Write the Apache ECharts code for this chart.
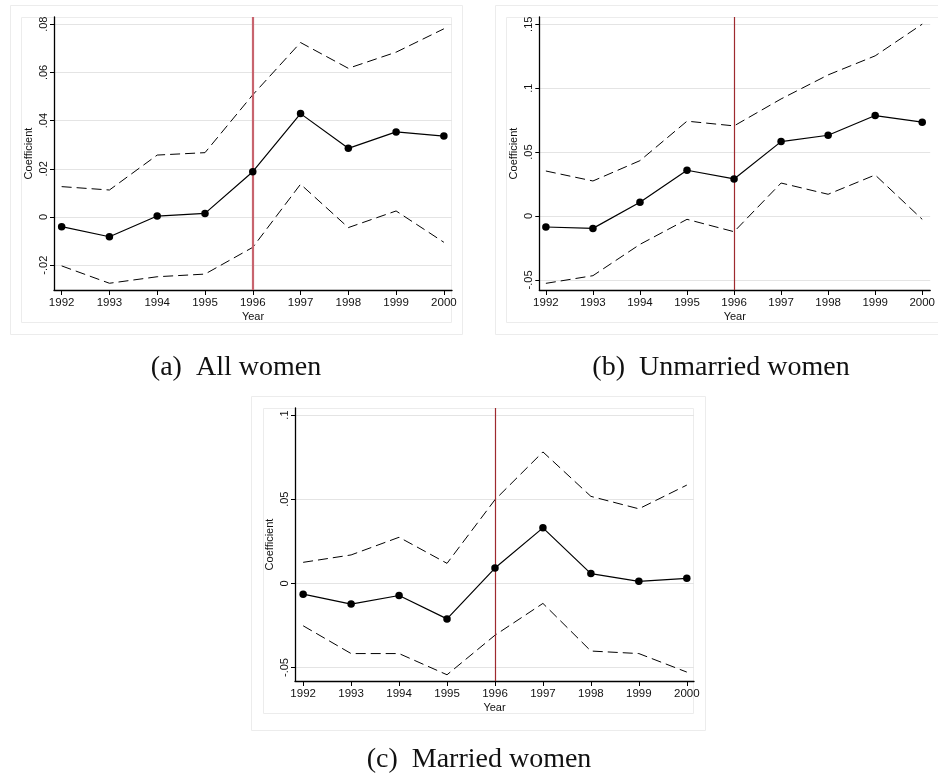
<!DOCTYPE html>
<html>
<head>
<meta charset="utf-8">
<script src="https://cdn.jsdelivr.net/npm/echarts@6/dist/echarts.min.js"></script>
<style>
html,body{margin:0;padding:0;background:#fff;}
#chart{width:938px;height:775px;}
</style>
</head>
<body>
<div id="chart"></div>
<script>
// ---------- data ----------
const years = [1992, 1993, 1994, 1995, 1996, 1997, 1998, 1999, 2000];

// (a) All women
const coefAll  = [-0.0040, -0.0082, 0.0004, 0.0015, 0.0188, 0.0429, 0.0285, 0.0353, 0.0336];
const upperAll = [ 0.0126,  0.0112, 0.0257, 0.0267, 0.0507, 0.0724, 0.0617, 0.0684, 0.0781];
const lowerAll = [-0.0203, -0.0275,-0.0248,-0.0237,-0.0126, 0.0136,-0.0044, 0.0025,-0.0105];

// (b) Unmarried women
const coefUnm  = [-0.0086, -0.0097, 0.0107, 0.0358, 0.0290, 0.0582, 0.0632, 0.0786, 0.0734];
const upperUnm = [ 0.0352,  0.0274, 0.0433, 0.0742, 0.0705, 0.0916, 0.1104, 0.1253, 0.1501];
const lowerUnm = [-0.0527, -0.0467,-0.0222,-0.0026,-0.0123, 0.0258, 0.0170, 0.0321,-0.0026];

// (c) Married women
const coefMar  = [-0.0064, -0.0123,-0.0072,-0.0211, 0.0091, 0.0330, 0.0058, 0.0012, 0.0030];
const upperMar = [ 0.0125,  0.0169, 0.0274, 0.0119, 0.0497, 0.0781, 0.0517, 0.0443, 0.0584];
const lowerMar = [-0.0252, -0.0417,-0.0417,-0.0543,-0.0308,-0.0119,-0.0402,-0.0417,-0.0527];

// tick values
const yTicksA = [-0.02, 0, 0.02, 0.04, 0.06, 0.08];
const yTicksB = [-0.05, 0, 0.05, 0.1, 0.15];
const yTicksC = [-0.05, 0, 0.05, 0.1];
const reformYear = 1996;

const captions = ['(a)  All women', '(b)  Unmarried women', '(c)  Married women'];
const xTitle = 'Year';
const yTitle = 'Coefficient';

// ---------- helpers ----------
function stataFmt(v){
  if (Math.abs(v) < 1e-12) return '0';
  let s = String(+v.toFixed(4));
  return s.replace(/^(-?)0\./, '$1.');
}
const SANS = '"Liberation Sans", Arial, sans-serif';

const panels = [
  {grid:{left:54, top:17, width:398, height:273}, xmin:1991.84, xmax:2000.17, ymin:-0.0303, ymax:0.0830, yt:yTicksA,
   c:coefAll, u:upperAll, l:lowerAll, red:{color:'#c8646e', width:2.2}},
  {grid:{left:539.3, top:17, width:397.4, height:273}, xmin:1991.86, xmax:2000.17, ymin:-0.0579, ymax:0.1557, yt:yTicksB,
   c:coefUnm, u:upperUnm, l:lowerUnm, red:{color:'#9e2a2f', width:1.2}},
  {grid:{left:295, top:408, width:399, height:273}, xmin:1991.83, xmax:2000.15, ymin:-0.0580, ymax:0.1042, yt:yTicksC,
   c:coefMar, u:upperMar, l:lowerMar, red:{color:'#9e2a2f', width:1.2}}
];

const grids = [], xAxes = [], yAxes = [], series = [];
panels.forEach((p, i) => {
  grids.push(Object.assign({containLabel:false}, p.grid));
  xAxes.push({
    type:'value', gridIndex:i, min:p.xmin, max:p.xmax,
    name:xTitle, nameLocation:'middle', nameGap:21,
    nameTextStyle:{fontFamily:SANS, fontSize:11, color:'#111'},
    axisLine:{onZero:false, lineStyle:{color:'#000', width:1.3}},
    axisTick:{show:true, length:5, lineStyle:{color:'#000'}, customValues:years},
    axisLabel:{customValues:years, fontFamily:SANS, fontSize:11.5, color:'#111', margin:7, formatter:v=>String(Math.round(v))},
    splitLine:{show:false}
  });
  yAxes.push({
    type:'value', gridIndex:i, min:p.ymin, max:p.ymax,
    name:yTitle, nameLocation:'middle', nameGap:20, nameRotate:90,
    nameTextStyle:{fontFamily:SANS, fontSize:11, color:'#111'},
    axisLine:{onZero:false, lineStyle:{color:'#000', width:1.3}},
    axisTick:{show:true, length:4, lineStyle:{color:'#000'}, customValues:p.yt},
    axisLabel:{customValues:p.yt, rotate:90, fontFamily:SANS, fontSize:11, color:'#111', margin:5, formatter:stataFmt},
    splitLine:{show:true, lineStyle:{color:'#e4e4e4', width:1}}
  });
  const mk = (arr) => years.map((y, k) => [y, arr[k]]);
  // reference line (drawn beneath the data)
  series.push({
    type:'line', xAxisIndex:i, yAxisIndex:i, data:[], silent:true, z:1,
    markLine:{
      symbol:'none', silent:true, label:{show:false}, animation:false,
      lineStyle:{color:p.red.color, width:p.red.width, type:'solid'},
      data:[{xAxis:reformYear}]
    }
  });
  series.push({
    type:'line', xAxisIndex:i, yAxisIndex:i, data:mk(p.u), symbol:'none',
    lineStyle:{color:'#000', width:1, type:[10,5]}, silent:true, z:3
  });
  series.push({
    type:'line', xAxisIndex:i, yAxisIndex:i, data:mk(p.l), symbol:'none',
    lineStyle:{color:'#000', width:1, type:[10,5]}, silent:true, z:3
  });
  series.push({
    type:'line', xAxisIndex:i, yAxisIndex:i, data:mk(p.c), symbol:'circle', symbolSize:7.5,
    itemStyle:{color:'#000'}, lineStyle:{color:'#000', width:1.2}, silent:true, z:5
  });
});

// frames & captions (decorative)
const frameStyle = {fill:'none', stroke:'#ececec', lineWidth:1};
const capFont = '28px "Liberation Serif", "Times New Roman", serif';
const graphic = [
  {type:'rect', shape:{x:10.5, y:5.5, width:452, height:329}, style:frameStyle, silent:true},
  {type:'rect', shape:{x:21.5, y:17.5, width:430, height:305}, style:frameStyle, silent:true},
  {type:'rect', shape:{x:495.5, y:5.5, width:460, height:329}, style:frameStyle, silent:true},
  {type:'rect', shape:{x:506.5, y:17.5, width:440, height:305}, style:frameStyle, silent:true},
  {type:'rect', shape:{x:251.5, y:396.5, width:454, height:334}, style:frameStyle, silent:true},
  {type:'rect', shape:{x:263.5, y:408.5, width:430, height:305}, style:frameStyle, silent:true},
  {type:'text', x:236, y:368, style:{text:captions[0], font:capFont, fill:'#111', align:'center', verticalAlign:'middle'}, silent:true},
  {type:'text', x:721, y:368, style:{text:captions[1], font:capFont, fill:'#111', align:'center', verticalAlign:'middle'}, silent:true},
  {type:'text', x:479, y:760, style:{text:captions[2], font:capFont, fill:'#111', align:'center', verticalAlign:'middle'}, silent:true}
];

const chart = echarts.init(document.getElementById('chart'), null, {renderer:'canvas'});
chart.setOption({
  animation:false,
  backgroundColor:'#fff',
  grid:grids, xAxis:xAxes, yAxis:yAxes, series:series, graphic:graphic
});
</script>
</body>
</html>
